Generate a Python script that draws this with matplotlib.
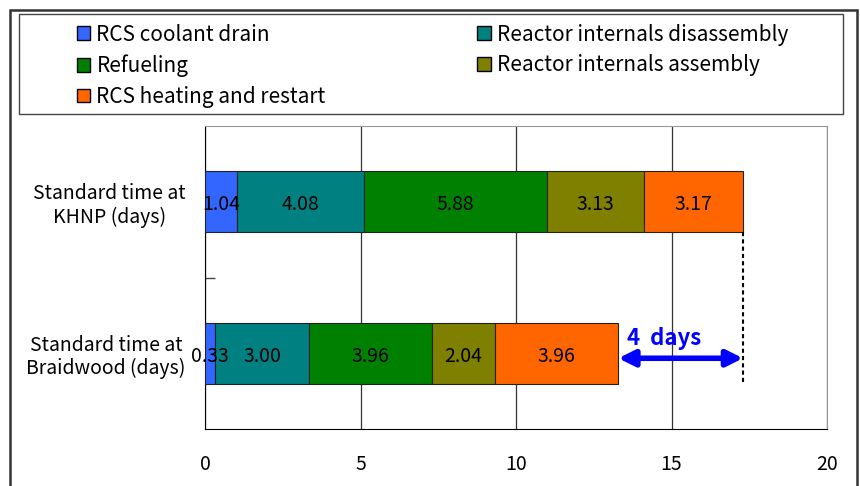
import matplotlib.pyplot as plt
from matplotlib.patches import Patch, Rectangle
import numpy as np

plt.rcParams['font.family'] = ['Noto Sans CJK JP', 'DejaVu Sans']

# 数据
sites = ['Standard time at\nBraidwood (days)', 'Standard time at\nKHNP (days)']
phases = ['RCS coolant drain', 'Reactor internals disassembly', 'Refueling',
          'Reactor internals assembly', 'RCS heating and restart']
colors = ['#3366FF', '#008080', '#008000', '#808000', '#FF6600']
braidwood = [0.33, 3.00, 3.96, 2.04, 3.96]
khnp = [1.04, 4.08, 5.88, 3.13, 3.17]
gap_label = '4  days'

fig = plt.figure(figsize=(8.6, 4.86), dpi=100)
ax = fig.add_axes([205/860, 1-429/486, (827-205)/860, (429-126)/486])

data = np.array([braidwood, khnp])
ypos = np.arange(len(sites))
left = np.zeros(len(sites))
for i, ph in enumerate(phases):
    ax.barh(ypos, data[:, i], left=left, height=0.4, color=colors[i],
            edgecolor='#222222', linewidth=0.8, zorder=3)
    for j in range(len(sites)):
        ax.text(left[j] + data[j, i] / 2, ypos[j] - 0.02, f'{data[j, i]:.2f}',
                ha='center', va='center', fontsize=14, zorder=4)
    left += data[:, i]

tot_b, tot_k = left[0], left[1]

# 虚线 + 箭头
ax.plot([tot_k, tot_k], [ypos[1] - 0.2, ypos[0] - 0.2], ls=(0, (2, 1.5)),
        color='black', lw=1.5, zorder=5)
ax.annotate('', xy=(tot_k, ypos[0] - 0.033), xytext=(tot_b, ypos[0] - 0.033),
            arrowprops=dict(arrowstyle='<|-|>', color='#0000FF', lw=4,
                            mutation_scale=24, shrinkA=0, shrinkB=0), zorder=6)
ax.text(14.75, ypos[0] + 0.1, gap_label, color='#0000FF',
        fontsize=16, fontweight='bold', ha='center', va='center', zorder=6)

ax.set_xlim(0, 20)
ax.set_ylim(-0.5, 1.5)
ax.set_xticks([0, 5, 10, 15, 20])
ax.tick_params(axis='x', length=0, pad=18, labelsize=14)
ax.xaxis.grid(True, color='#333333', lw=0.9, zorder=0)
ax.set_axisbelow(True)
ax.set_yticks(ypos)
ax.set_yticklabels(sites, fontsize=14, multialignment='center', linespacing=1.15)
ax.tick_params(axis='y', which='major', length=0, pad=14)
ax.set_yticks([0.5], minor=True)
ax.tick_params(axis='y', which='minor', direction='in', length=7, width=1, color='#444444')
for s in ['top', 'right']:
    ax.spines[s].set_color('#999999')
for s in ['left', 'bottom']:
    ax.spines[s].set_color('black')

# 图例
handles = [Patch(facecolor=colors[k], edgecolor='black', label=phases[k]) for k in [0, 2, 4, 1, 3]]
fig.legend(handles=handles, ncol=2, frameon=False, mode='expand',
           bbox_to_anchor=(60/860, 1-107/486, (805-60)/860, 100/486),
           loc='upper left', fontsize=15, handlelength=0.65, handleheight=0.65,
           handletextpad=0.3, labelspacing=0.42, borderpad=0.3)
fig.patches.append(Rectangle((19/860, 1-114/486), (843-19)/860, 100/486,
                             transform=fig.transFigure, fill=False,
                             edgecolor='#444444', lw=1.0))
fig.patches.append(Rectangle((10/860, -0.1), (857-10)/860, 1.1 - 10/486,
                             transform=fig.transFigure, fill=False,
                             edgecolor='#333333', lw=1.8))

fig.savefig('out.png', dpi=100)
